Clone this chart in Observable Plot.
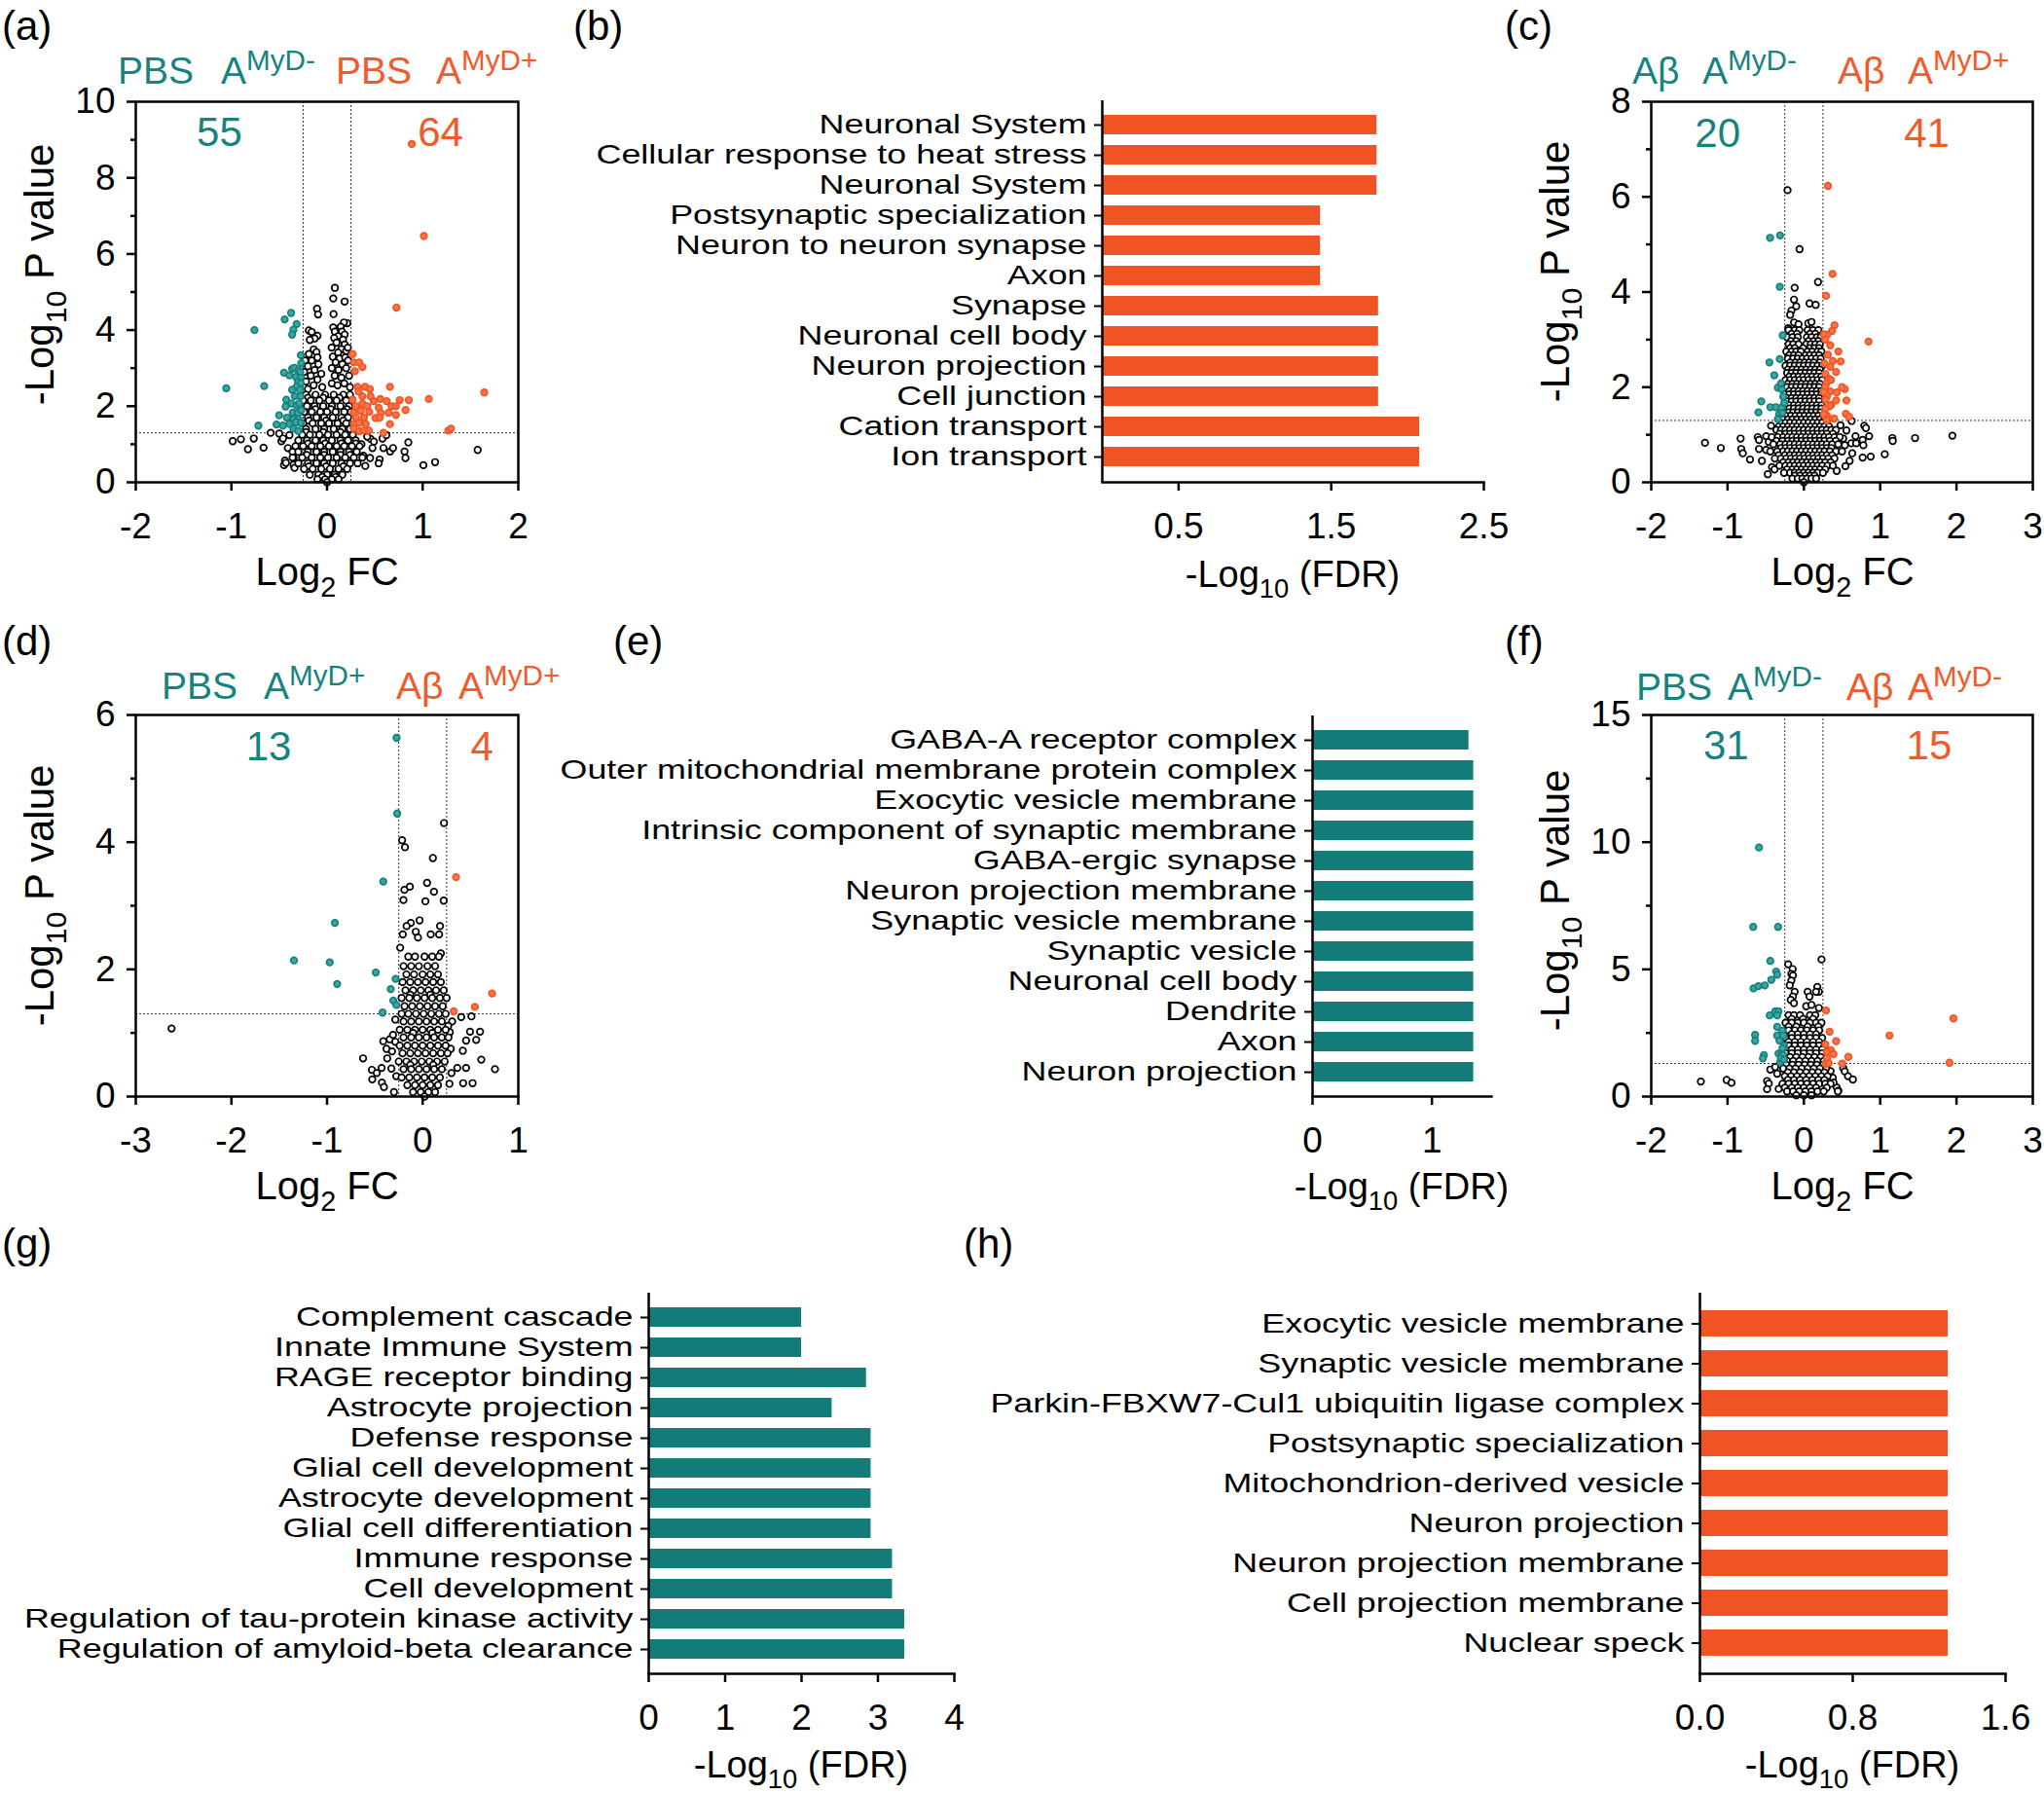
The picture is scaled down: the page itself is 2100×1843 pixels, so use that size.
<!DOCTYPE html>
<html><head><meta charset="utf-8">
<script src="https://cdn.jsdelivr.net/npm/d3@7"></script>
<script src="https://cdn.jsdelivr.net/npm/@observablehq/plot@0.6"></script>
<style>
html,body{margin:0;padding:0;background:#fff;}
#fig{position:relative;width:2100px;height:1843px;overflow:hidden;background:#fff;}
.panel{position:absolute;}
.panel svg{overflow:visible;}
#overlay{position:absolute;left:0;top:0;pointer-events:none;overflow:visible;}
</style></head><body><div id="fig"></div>
<script>
// ---------------- DATA ----------------
// (b) GO terms, PBS A-MyD- vs PBS A-MyD+
const bLabels = ["Neuronal System","Cellular response to heat stress","Neuronal System","Postsynaptic specialization","Neuron to neuron synapse","Axon","Synapse","Neuronal cell body","Neuron projection","Cell junction","Cation transport","Ion transport"];
const bValues = [1.80,1.80,1.80,1.43,1.43,1.43,1.81,1.81,1.81,1.81,2.08,2.08];
const bTicks = [0.5,1.5,2.5];
// (e)
const eLabels = ["GABA-A receptor complex","Outer mitochondrial membrane protein complex","Exocytic vesicle membrane","Intrinsic component of synaptic membrane","GABA-ergic synapse","Neuron projection membrane","Synaptic vesicle membrane","Synaptic vesicle","Neuronal cell body","Dendrite","Axon","Neuron projection"];
const eValues = [1.31,1.35,1.35,1.35,1.35,1.35,1.35,1.35,1.35,1.35,1.35,1.35];
const eTicks = [0,1];
// (g)
const gLabels = ["Complement cascade","Innate Immune System","RAGE receptor binding","Astrocyte projection","Defense response","Glial cell development","Astrocyte development","Glial cell differentiation","Immune response","Cell development","Regulation of tau-protein kinase activity","Regulation of amyloid-beta clearance"];
const gValues = [2.0,2.0,2.85,2.4,2.91,2.91,2.91,2.91,3.19,3.19,3.35,3.35];
const gTicks = [0,1,2,3,4];
// (h)
const hLabels = ["Exocytic vesicle membrane","Synaptic vesicle membrane","Parkin-FBXW7-Cul1 ubiquitin ligase complex","Postsynaptic specialization","Mitochondrion-derived vesicle","Neuron projection","Neuron projection membrane","Cell projection membrane","Nuclear speck"];
const hValues = [1.30,1.30,1.30,1.30,1.30,1.30,1.30,1.30,1.30];
const hTicks = [0,0.8,1.6];

// Volcano (a): [log2FC, -log10 p]
const aTeal = [[-1.054,2.47],[-0.759,4.0],[-0.657,2.53],[-0.718,1.49],[-0.501,1.76],[-0.528,1.52],[-0.46,1.49],[-0.443,4.28],[-0.376,4.45],[-0.318,4.16],[-0.352,4.01],[-0.365,3.88],[-0.45,2.88],[-0.393,2.81],[-0.365,2.98],[-0.342,3.01],[-0.274,3.34],[-0.27,3.13],[-0.298,2.94],[-0.325,2.77],[-0.274,2.77],[-0.304,2.64],[-0.274,2.6],[-0.318,2.51],[-0.365,2.43],[-0.284,2.43],[-0.338,2.26],[-0.277,2.26],[-0.426,2.17],[-0.372,2.07],[-0.318,2.02],[-0.291,2.07],[-0.433,1.99],[-0.359,1.83],[-0.304,1.82],[-0.42,1.7],[-0.352,1.66],[-0.298,1.66],[-0.393,1.53],[-0.325,1.58],[-0.352,1.41],[-0.274,1.56],[-0.3,1.35],[-0.27,1.9],[-0.28,2.9]];
const aOrange = [[0.886,8.89],[1.013,6.47],[0.726,4.59],[1.644,2.36],[1.064,2.19],[0.268,3.37],[0.279,3.15],[0.336,3.15],[0.37,3.03],[0.292,2.92],[0.397,2.51],[0.319,2.51],[0.448,2.45],[0.658,2.51],[0.33,2.39],[0.37,2.26],[0.268,2.17],[0.455,2.26],[0.489,2.13],[0.557,2.19],[0.624,2.13],[0.76,2.16],[0.855,2.16],[0.302,2.0],[0.37,2.07],[0.421,2.0],[0.54,1.96],[0.675,2.0],[0.72,2.0],[0.279,1.83],[0.353,1.88],[0.441,1.85],[0.563,1.82],[0.645,1.83],[0.72,1.77],[0.821,1.9],[0.302,1.7],[0.387,1.7],[0.506,1.69],[0.55,1.7],[0.285,1.53],[0.336,1.56],[0.404,1.53],[0.658,1.53],[0.279,1.41],[0.336,1.34],[0.387,1.36],[0.438,1.36],[0.59,1.3],[1.268,1.36],[1.296,1.41]];
const aBlackScatter = [[0.082,5.11],[0.065,4.83],[0.184,4.75],[-0.105,4.56],[-0.094,4.41],[0.068,4.42],[0.211,4.18],[0.177,4.2],[0.143,4.09],[0.156,3.96],[0.065,4.07],[0.082,3.96],[0.184,3.88],[0.116,3.84],[0.167,3.75],[0.075,3.79],[0.099,3.67],[0.184,3.62],[0.048,3.54],[0.15,3.5],[0.2,3.45],[0.116,3.41],[0.218,3.54],[0.06,3.3],[0.13,3.25],[0.19,3.28],[0.09,3.15],[0.16,3.1],[0.22,3.2],[0.05,3.0],[0.12,2.95],[0.2,3.0],[0.08,2.8],[0.15,2.75],[0.23,2.8],[0.05,2.6],[0.11,2.55],[0.18,2.6],[0.24,2.5],[-0.19,3.99],[-0.16,3.95],[-0.1,3.85],[-0.13,3.78],[-0.18,3.74],[-0.14,3.49],[-0.11,3.42],[-0.19,3.37],[-0.1,3.28],[-0.23,3.2],[-0.16,3.2],[-0.09,3.1],[-0.2,3.05],[-0.13,2.95],[-0.24,2.9],[-0.06,2.85],[-0.17,2.8],[-0.1,2.7],[-0.22,2.65],[-0.14,2.55],[-0.05,2.5],[-0.2,2.45],[-0.986,1.08],[-0.901,1.13],[-0.766,1.15],[-0.827,0.87],[-0.664,0.91],[-0.589,1.3],[-0.5,1.28],[-0.477,1.08],[-0.46,1.15],[-0.393,1.24],[-0.41,0.9],[-0.44,0.57],[-0.45,0.45],[-0.43,0.51],[-0.36,0.8],[-0.35,0.64],[-0.35,0.46],[-0.34,0.38],[0.455,1.14],[0.49,1.07],[0.58,1.15],[0.62,1.24],[0.475,0.9],[0.59,0.9],[0.66,0.81],[0.69,0.9],[0.85,1.05],[0.81,0.81],[0.82,0.64],[0.45,0.64],[0.55,0.6],[0.4,0.43],[0.54,0.5],[1.007,0.45],[1.13,0.53],[1.575,0.85],[0.38,0.7],[0.36,1.0],[0.42,1.2]];
const aBlackRows = [[2.3,[-0.22,-0.12,-0.02,0.07,0.17,0.24]],[2.22,[-0.2,-0.04,0.13]],[2.15,[-0.25,-0.17,-0.08,0.02,0.1,0.2]],[2.0,[-0.21,-0.13,-0.04,0.05,0.14,0.23]],[1.92,[-0.12,0.04,0.21]],[1.85,[-0.24,-0.16,-0.07,0.0,0.09,0.18,0.25]],[1.7,[-0.2,-0.11,-0.03,0.06,0.15,0.22]],[1.62,[-0.19,-0.01,0.17]],[1.55,[-0.25,-0.15,-0.06,0.02,0.11,0.2]],[1.4,[-0.22,-0.12,-0.03,0.07,0.16,0.24]],[1.32,[-0.22,-0.04,0.14]],[1.25,[-0.26,-0.18,-0.08,0.01,0.1,0.19,0.27]],[1.1,[-0.3,-0.21,-0.12,-0.04,0.05,0.14,0.22,0.3]],[1.02,[-0.2,-0.02,0.15,0.3]],[0.95,[-0.33,-0.25,-0.16,-0.07,0.02,0.1,0.18,0.26,0.34]],[0.8,[-0.3,-0.2,-0.11,-0.03,0.06,0.14,0.23,0.31]],[0.72,[-0.21,-0.03,0.14,0.24]],[0.65,[-0.36,-0.26,-0.16,-0.07,0.01,0.1,0.19,0.28,0.37]],[0.5,[-0.3,-0.2,-0.11,-0.03,0.06,0.15,0.24,0.32]],[0.42,[-0.19,-0.01,0.17]],[0.35,[-0.24,-0.15,-0.06,0.03,0.12,0.21]],[0.2,[-0.18,-0.09,0.0,0.08,0.16]],[0.14,[-0.05,0.09]],[0.08,[-0.1,-0.02,0.05,0.12]],[0.0,[0.0]]];
const aCounts = [{x:-1.125,y:9.18,t:"55"},{x:1.186,y:9.18,t:"64"}];

// Volcano (c)
const cTeal = [[-0.443,5.14],[-0.312,5.19],[-0.316,4.11],[-0.278,3.09],[-0.452,2.52],[-0.316,2.59],[-0.388,2.25],[-0.341,1.99],[-0.29,1.96],[-0.299,2.08],[-0.558,1.7],[-0.439,1.58],[-0.367,1.58],[-0.291,1.57],[-0.596,1.47],[-0.325,1.43],[-0.341,1.33],[-0.27,1.8],[-0.257,1.67],[-0.282,1.46]];
const cOrange = [[0.316,6.23],[0.376,4.38],[0.291,3.92],[0.401,3.3],[0.367,3.18],[0.304,3.1],[0.261,3.11],[0.847,2.96],[0.346,2.88],[0.452,2.75],[0.316,2.68],[0.38,2.55],[0.482,2.54],[0.346,2.43],[0.422,2.32],[0.282,2.28],[0.325,2.18],[0.295,2.08],[0.355,2.15],[0.537,1.96],[0.346,1.91],[0.431,1.89],[0.304,1.81],[0.422,1.72],[0.558,1.72],[0.282,1.74],[0.359,1.63],[0.337,1.6],[0.55,1.44],[0.592,1.38],[0.282,1.55],[0.304,1.4],[0.397,1.34],[0.325,1.33],[0.261,1.43],[0.28,2.0],[0.3,1.3],[0.27,2.5],[0.28,3.0],[0.5,2.0],[0.26,1.9]];
const cBlackScatter = [[-0.214,6.14],[-0.057,4.9],[0.185,4.21],[-0.121,4.09],[-0.129,3.84],[-0.1,3.7],[-0.163,3.61],[-0.18,3.52],[0.074,3.76],[0.155,3.73],[-0.129,3.36],[-0.07,3.32],[0.057,3.34],[0.1,3.37],[-0.206,3.24],[-1.296,0.83],[-1.088,0.72],[-0.829,0.92],[-0.821,0.7],[-0.8,0.61],[-0.706,0.48],[-0.604,0.95],[-0.588,0.89],[-0.494,0.97],[-0.588,0.7],[-0.494,0.68],[-0.46,0.85],[-0.418,0.32],[-0.384,0.27],[-0.473,0.17],[-0.43,1.19],[-0.55,0.45],[0.626,1.29],[0.558,1.09],[0.622,0.82],[0.685,0.82],[0.677,0.97],[0.77,0.89],[0.791,1.19],[0.813,1.14],[0.855,0.97],[0.779,0.78],[0.77,0.52],[0.876,0.54],[0.634,0.61],[0.537,0.78],[0.516,0.92],[0.545,0.34],[0.431,0.24],[1.06,0.59],[1.16,0.93],[1.165,0.87],[1.457,0.93],[1.946,0.98],[0.6,0.45],[0.48,1.2]];
const cBlackRows = [[3.2,[-0.2,-0.12,-0.06,0.05,0.12,0.19]],[3.12,[-0.16,-0.09,0.08,0.15]],[3.05,[-0.22,-0.15,-0.08,0.04,0.1,0.17,0.22]],[2.97,[-0.17,-0.1,0.06,0.13,0.19]],[2.9,[-0.2,-0.14,-0.07,0.03,0.09,0.15,0.21]],[2.82,[-0.18,-0.12,-0.01,0.08,0.14,0.2]],[2.75,[-0.23,-0.16,-0.1,-0.04,0.05,0.11,0.18,0.23]],[2.67,[-0.19,-0.13,-0.07,0.02,0.08,0.14,0.2]],[2.6,[-0.21,-0.14,-0.08,-0.02,0.04,0.1,0.16,0.22]],[2.52,[-0.18,-0.11,-0.05,0.01,0.07,0.13,0.21]],[2.45,[-0.24,-0.18,-0.12,-0.06,0.0,0.06,0.12,0.18,0.24]],[2.37,[-0.21,-0.15,-0.09,-0.03,0.03,0.09,0.15,0.21]],[2.3,[-0.22,-0.16,-0.1,-0.04,0.02,0.08,0.14,0.2]],[2.22,[-0.19,-0.13,-0.07,-0.01,0.05,0.11,0.17,0.23]],[2.15,[-0.24,-0.18,-0.12,-0.06,0.0,0.06,0.12,0.18,0.24]],[2.07,[-0.21,-0.15,-0.09,-0.03,0.03,0.09,0.15,0.21]],[2.0,[-0.22,-0.16,-0.1,-0.04,0.02,0.08,0.14,0.2]],[1.92,[-0.19,-0.13,-0.07,-0.01,0.05,0.11,0.17,0.23]],[1.85,[-0.25,-0.19,-0.13,-0.07,-0.01,0.05,0.11,0.17,0.23]],[1.77,[-0.22,-0.16,-0.1,-0.04,0.02,0.08,0.14,0.2]],[1.7,[-0.22,-0.16,-0.1,-0.04,0.02,0.08,0.14,0.2]],[1.62,[-0.19,-0.13,-0.07,-0.01,0.05,0.11,0.17,0.23]],[1.55,[-0.25,-0.19,-0.13,-0.07,-0.01,0.05,0.11,0.17,0.23]],[1.47,[-0.2,-0.14,-0.08,-0.02,0.04,0.1,0.16,0.22]],[1.4,[-0.23,-0.17,-0.11,-0.05,0.01,0.07,0.13,0.19,0.25]],[1.32,[-0.27,-0.21,-0.15,-0.09,-0.03,0.03,0.09,0.15,0.21,0.27]],[1.25,[-0.3,-0.24,-0.18,-0.12,-0.06,0.0,0.06,0.12,0.18,0.24,0.3]],[1.17,[-0.33,-0.27,-0.21,-0.15,-0.09,-0.03,0.03,0.09,0.15,0.21,0.27,0.33]],[1.1,[-0.36,-0.3,-0.24,-0.18,-0.12,-0.06,0.0,0.06,0.12,0.18,0.24,0.3,0.36,0.42]],[1.02,[-0.32,-0.24,-0.18,-0.12,-0.06,0.0,0.06,0.12,0.18,0.24,0.3,0.38]],[0.95,[-0.42,-0.34,-0.27,-0.21,-0.15,-0.09,-0.03,0.03,0.09,0.15,0.21,0.27,0.33,0.4,0.47]],[0.87,[-0.36,-0.28,-0.21,-0.15,-0.09,-0.03,0.03,0.09,0.15,0.21,0.27,0.34,0.42]],[0.8,[-0.4,-0.31,-0.24,-0.18,-0.12,-0.06,0.0,0.06,0.12,0.18,0.24,0.3,0.37,0.45]],[0.72,[-0.3,-0.24,-0.18,-0.12,-0.06,0.0,0.06,0.12,0.18,0.24,0.3,0.36]],[0.65,[-0.44,-0.35,-0.27,-0.21,-0.15,-0.09,-0.03,0.03,0.09,0.15,0.21,0.27,0.34,0.42,0.5]],[0.57,[-0.33,-0.25,-0.18,-0.12,-0.06,0.0,0.06,0.12,0.18,0.24,0.3,0.37]],[0.5,[-0.38,-0.3,-0.23,-0.17,-0.11,-0.05,0.01,0.07,0.13,0.19,0.25,0.32,0.4]],[0.42,[-0.27,-0.2,-0.14,-0.08,-0.02,0.04,0.1,0.16,0.22,0.28,0.35]],[0.35,[-0.32,-0.24,-0.18,-0.12,-0.06,0.0,0.06,0.12,0.18,0.24,0.31,0.38]],[0.27,[-0.22,-0.15,-0.09,-0.03,0.03,0.09,0.15,0.21,0.28]],[0.2,[-0.26,-0.18,-0.12,-0.06,0.0,0.06,0.12,0.18,0.25]],[0.14,[-0.12,-0.05,0.02,0.08,0.14]],[0.08,[-0.15,-0.08,-0.02,0.04,0.1,0.16]],[0.0,[0.0]]];
const cCounts = [{x:-1.13,y:7.33,t:"20"},{x:1.61,y:7.33,t:"41"}];

// Volcano (d)
const dTeal = [[-0.273,5.64],[-0.266,4.45],[-0.412,3.38],[-0.918,2.73],[-1.346,2.14],[-0.972,2.11],[-0.894,1.77],[-0.49,1.95],[-0.283,1.85],[-0.334,1.69],[-0.307,1.51],[-0.276,1.44],[-0.419,1.32]];
const dOrange = [[0.349,3.45],[0.325,1.34],[0.546,1.41],[0.726,1.62]];
const dBlackScatter = [[0.223,4.3],[-0.215,4.03],[-0.185,3.92],[0.107,3.75],[-0.191,3.25],[-0.134,3.3],[0.046,3.36],[0.118,3.22],[-0.201,3.09],[0.029,3.07],[0.22,3.08],[-2.626,1.07],[-0.032,2.77],[-0.124,2.73],[-0.168,2.68],[-0.072,2.59],[-0.049,2.5],[-0.208,2.55],[0.084,2.55],[0.172,2.55],[0.182,2.68],[-0.235,2.34],[0.19,2.25],[-0.286,1.21],[-0.412,0.87],[-0.344,0.9],[-0.31,0.97],[-0.286,0.86],[-0.378,0.75],[-0.32,0.71],[-0.371,0.6],[-0.623,0.6],[-0.531,0.42],[-0.48,0.37],[-0.429,0.45],[-0.527,0.27],[-0.426,0.22],[-0.405,0.15],[-0.327,0.44],[-0.276,0.32],[-0.3,0.07],[0.308,1.18],[0.403,1.25],[0.267,1.11],[0.284,1.01],[0.495,1.02],[0.454,0.88],[0.42,0.72],[0.294,0.75],[0.613,0.58],[0.756,0.43],[0.362,0.45],[0.454,0.45],[0.423,0.21],[0.301,0.37],[0.522,0.21],[0.56,0.89],[0.6,1.02],[0.51,1.26],[0.28,0.2]];
const dBlackRows = [[2.2,[-0.15,-0.08,0.02,0.1,0.17]],[2.05,[-0.2,-0.12,-0.04,0.05,0.13]],[1.92,[-0.17,-0.09,0.0,0.08,0.16]],[1.8,[-0.21,-0.13,-0.05,0.03,0.11,0.19]],[1.67,[-0.18,-0.1,-0.02,0.06,0.14,0.22]],[1.6,[-0.13,0.08]],[1.55,[-0.22,-0.14,-0.06,0.02,0.1,0.18,0.25]],[1.42,[-0.19,-0.11,-0.03,0.05,0.13,0.21]],[1.3,[-0.22,-0.15,-0.07,0.01,0.09,0.17,0.24]],[1.18,[-0.2,-0.12,-0.04,0.04,0.12,0.2]],[1.05,[-0.24,-0.16,-0.08,0.0,0.08,0.16,0.24]],[1.0,[-0.1,0.1]],[0.93,[-0.2,-0.12,-0.04,0.04,0.12,0.2,0.27]],[0.8,[-0.24,-0.16,-0.08,0.0,0.08,0.16,0.24]],[0.68,[-0.21,-0.13,-0.05,0.03,0.11,0.19,0.26]],[0.55,[-0.25,-0.17,-0.09,-0.01,0.07,0.15,0.23]],[0.5,[-0.13,0.11]],[0.43,[-0.2,-0.12,-0.04,0.04,0.12,0.2]],[0.3,[-0.22,-0.14,-0.06,0.02,0.1,0.18]],[0.18,[-0.16,-0.08,0.0,0.08,0.16]],[0.07,[-0.1,-0.02,0.06,0.13]],[0.0,[0.02]]];
const dCounts = [{x:-1.61,y:5.5,t:"13"},{x:0.62,y:5.5,t:"4"}];

// Volcano (f)
const fTeal = [[-0.588,9.79],[-0.664,6.67],[-0.338,6.67],[-0.44,5.33],[-0.363,4.91],[-0.35,4.79],[-0.427,4.59],[-0.66,4.25],[-0.597,4.34],[-0.512,4.37],[-0.448,3.19],[-0.376,3.35],[-0.333,3.35],[-0.35,3.19],[-0.35,2.74],[-0.35,2.4],[-0.283,2.59],[-0.27,2.4],[-0.639,2.42],[-0.639,2.19],[-0.524,1.63],[-0.537,1.5],[-0.333,1.69],[-0.291,1.69],[-0.27,1.63],[-0.312,1.35],[-0.3,1.5],[-0.26,2.0],[-0.28,1.9],[-0.32,2.2],[-0.26,1.45]];
const fOrange = [[0.29,3.38],[0.337,2.55],[0.422,2.18],[0.282,2.05],[0.354,1.82],[0.388,1.67],[0.303,1.5],[0.282,1.29],[0.324,1.31],[0.583,1.56],[0.502,1.3],[1.122,2.4],[1.96,3.07],[1.908,1.33],[0.3,1.75]];
const fBlackScatter = [[0.231,5.39],[-0.206,5.2],[-0.147,5.01],[-0.164,4.82],[-0.143,4.76],[-0.164,4.56],[-0.185,4.37],[0.176,4.31],[0.197,4.12],[0.049,4.12],[0.074,3.93],[0.159,4.12],[-0.121,4.12],[-0.143,3.93],[-0.172,3.8],[-0.13,3.67],[0.197,3.48],[0.03,3.55],[0.1,3.6],[-1.35,0.59],[-1.012,0.65],[-0.949,0.54],[-0.44,1.06],[-0.376,1.16],[-0.482,0.61],[-0.46,0.51],[-0.482,0.29],[-0.35,0.9],[-0.33,0.3],[0.515,1.12],[0.536,0.99],[0.578,0.8],[0.642,0.67],[0.43,0.36],[0.452,0.23],[0.379,0.74],[0.388,0.55],[0.446,0.2],[0.35,1.0]];
const fBlackRows = [[3.2,[-0.2,-0.13,-0.05,0.08,0.15]],[3.05,[-0.16,-0.01,0.12]],[2.9,[-0.24,-0.16,-0.08,0.0,0.08,0.16,0.23]],[2.75,[-0.2,-0.1,0.05,0.19]],[2.6,[-0.2,-0.12,-0.04,0.04,0.12,0.2]],[2.45,[-0.16,-0.08,0.0,0.08,0.16]],[2.3,[-0.24,-0.16,-0.08,0.0,0.08,0.16,0.24]],[2.15,[-0.2,-0.12,-0.04,0.04,0.12,0.2]],[2.0,[-0.2,-0.12,-0.04,0.04,0.12,0.2,0.27]],[1.85,[-0.24,-0.16,-0.08,0.0,0.08,0.16,0.24]],[1.7,[-0.24,-0.16,-0.08,0.0,0.08,0.16,0.24]],[1.55,[-0.18,-0.1,-0.02,0.06,0.14,0.22]],[1.4,[-0.22,-0.14,-0.06,0.02,0.1,0.18,0.26]],[1.25,[-0.23,-0.15,-0.07,0.01,0.09,0.17,0.25]],[1.1,[-0.27,-0.19,-0.11,-0.03,0.05,0.13,0.21,0.29]],[0.95,[-0.21,-0.13,-0.05,0.03,0.11,0.19,0.27]],[0.8,[-0.25,-0.17,-0.09,-0.01,0.07,0.15,0.23,0.31]],[0.65,[-0.21,-0.13,-0.05,0.03,0.11,0.19,0.27]],[0.5,[-0.28,-0.2,-0.12,-0.04,0.04,0.12,0.2,0.28,0.35]],[0.35,[-0.25,-0.16,-0.08,0.0,0.08,0.16,0.3]],[0.2,[-0.22,-0.14,-0.06,0.02,0.1,0.18,0.26]],[0.05,[-0.1,0.0,0.1]]];
const fCounts = [{x:-1.02,y:13.79,t:"31"},{x:1.64,y:13.79,t:"15"}];

// ---------------- STYLE ----------------
const FONT = '"Liberation Sans", Arial, Helvetica, sans-serif';
const TEAL_TXT = "#17837f", ORANGE_TXT = "#f15a29";
const TEAL_BAR = "#147c78", ORANGE_BAR = "#f05324";
const TEAL_PT = {fill: "#3aa7a3", stroke: "#16807c"};
const ORANGE_PT = {fill: "#ff7447", stroke: "#ef5627"};
const CAT_SIZE = 28, CAT_STRETCH = 1.28;

const fig = document.getElementById("fig");
function place(node, left, top) {
  const d = document.createElement("div");
  d.className = "panel"; d.style.left = left + "px"; d.style.top = top + "px";
  d.appendChild(node); fig.appendChild(d);
}
const rowsToPts = rows => rows.flatMap(([y, xs]) => xs.map(x => [x, y]));

function volcano(c) {
  const black = c.scatter.concat(rowsToPts(c.rows));
  const P = {x: d => d[0], y: d => d[1], r: 3.3, strokeWidth: 1.7};
  const dotted = {stroke: "#333", strokeWidth: 1, strokeDasharray: "2,2"};
  const plot = Plot.plot({
    width: c.width, height: c.height,
    marginLeft: c.mL, marginTop: c.mT, marginRight: c.mR, marginBottom: c.mB,
    style: {fontFamily: FONT, fontSize: "37px", background: "transparent", overflow: "visible", color: "black"},
    x: {domain: c.xDom}, y: {domain: c.yDom},
    marks: [
      Plot.ruleX([-0.25, 0.25], dotted),
      Plot.ruleY([1.3], dotted),
      Plot.dot(black, {...P, stroke: "black", fill: "white"}),
      Plot.dot(c.teal, {...P, ...TEAL_PT}),
      Plot.dot(c.orange, {...P, ...ORANGE_PT}),
      Plot.text(c.counts.slice(0, 1), {x: "x", y: "y", text: "t", fill: TEAL_TXT, fontSize: 42}),
      Plot.text(c.counts.slice(1), {x: "x", y: "y", text: "t", fill: ORANGE_TXT, fontSize: 42}),
      Plot.frame({stroke: "black", strokeWidth: 2.5}),
      Plot.axisX(c.xTicks, {tickSize: 9, tickPadding: 22, tickFormat: d => String(d), label: null, strokeWidth: 2.5, fontSize: 37}),
      Plot.axisY(c.yMajor, {tickSize: 9, tickPadding: 12, tickFormat: d => String(d), label: null, strokeWidth: 2.5, fontSize: 37}),
      Plot.axisY(c.yMinor, {tickSize: 5, tickFormat: () => "", label: null, strokeWidth: 2.5})
    ]
  });
  place(plot, c.left, c.top);
}

function bars(c) {
  const data = c.labels.map((l, i) => ({i, v: c.values[i]}));
  const plot = Plot.plot({
    width: c.width, height: c.height,
    marginLeft: c.mL, marginTop: c.mT, marginRight: c.mR, marginBottom: c.mB,
    style: {fontFamily: FONT, fontSize: CAT_SIZE + "px", background: "transparent", overflow: "visible", color: "black"},
    x: {domain: c.xDom},
    y: {domain: c.labels.map((_, i) => i), padding: 0.35},
    marks: [
      Plot.barX(data, {x: "v", y: "i", fill: c.color}),
      Plot.ruleX([0], {stroke: "black", strokeWidth: 2.5}),
      Plot.frame({anchor: "bottom", stroke: "black", strokeWidth: 2.5}),
      Plot.axisX(c.xTicks, {tickSize: 9, tickPadding: 22, tickFormat: c.fmt, label: null, strokeWidth: 2.5, fontSize: 37}),
      Plot.axisY({tickSize: 8, tickPadding: 8, tickFormat: i => c.labels[i], label: null, strokeWidth: 2, fontSize: CAT_SIZE})
    ]
  });
  place(plot, c.left, c.top);
  // the figure's category font is wider than Arial: stretch the glyphs horizontally
  plot.querySelectorAll('g[aria-label="y-axis tick label"] text').forEach(t => {
    const w = t.getComputedTextLength();
    if (w > 0) { t.setAttribute("textLength", (w * CAT_STRETCH).toFixed(1)); t.setAttribute("lengthAdjust", "spacingAndGlyphs"); }
  });
}

volcano({left: 0, top: 0, width: 560, height: 600, mL: 139, mT: 104, mR: 28, mB: 105,
  xDom: [-2, 2], xTicks: [-2,-1,0,1,2], yDom: [0, 10], yMajor: [0,2,4,6,8,10], yMinor: [1,3,5,7,9],
  scatter: aBlackScatter, rows: aBlackRows, teal: aTeal, orange: aOrange, counts: aCounts});
volcano({left: 1540, top: 0, width: 560, height: 600, mL: 156, mT: 104, mR: 12, mB: 105,
  xDom: [-2, 3], xTicks: [-2,-1,0,1,2,3], yDom: [0, 8], yMajor: [0,2,4,6,8], yMinor: [1,3,5,7],
  scatter: cBlackScatter, rows: cBlackRows, teal: cTeal, orange: cOrange, counts: cCounts});
volcano({left: 0, top: 620, width: 560, height: 600, mL: 139, mT: 114, mR: 28, mB: 94,
  xDom: [-3, 1], xTicks: [-3,-2,-1,0,1], yDom: [0, 6], yMajor: [0,2,4,6], yMinor: [1,3,5],
  scatter: dBlackScatter, rows: dBlackRows, teal: dTeal, orange: dOrange, counts: dCounts});
volcano({left: 1540, top: 620, width: 560, height: 600, mL: 156, mT: 114, mR: 12, mB: 94,
  xDom: [-2, 3], xTicks: [-2,-1,0,1,2,3], yDom: [0, 15], yMajor: [0,5,10,15], yMinor: [2.5,7.5,12.5],
  scatter: fBlackScatter, rows: fBlackRows, teal: fTeal, orange: fOrange, counts: fCounts});

bars({left: 560, top: 0, width: 1000, height: 600, mL: 572, mT: 103, mR: 36, mB: 105,
  labels: bLabels, values: bValues, color: ORANGE_BAR, xDom: [0, 2.5], xTicks: bTicks, fmt: d => String(d)});
bars({left: 540, top: 620, width: 1000, height: 600, mL: 808, mT: 115, mR: 8, mB: 94,
  labels: eLabels, values: eValues, color: TEAL_BAR, xDom: [0, 1.5], xTicks: eTicks, fmt: d => String(d)});
bars({left: 0, top: 1240, width: 1000, height: 603, mL: 666, mT: 88, mR: 20, mB: 124,
  labels: gLabels, values: gValues, color: TEAL_BAR, xDom: [0, 4], xTicks: gTicks, fmt: d => String(d)});
bars({left: 1000, top: 1240, width: 1100, height: 603, mL: 746, mT: 88, mR: 40, mB: 124,
  labels: hLabels, values: hValues, color: ORANGE_BAR, xDom: [0, 1.6], xTicks: hTicks, fmt: d => d.toFixed(1)});

// ---------------- TEXT OVERLAY ----------------
const ov = d3.select("#fig").append("svg").attr("id", "overlay").attr("width", 2100).attr("height", 1843);
function label(x, y, parts, {size, color = "black", anchor = "start", rotate = false, supScale = 0.72}) {
  const t = ov.append("text").attr("x", x).attr("y", y).attr("font-size", size)
    .attr("fill", color).attr("text-anchor", anchor).attr("font-family", FONT);
  if (rotate) t.attr("transform", `rotate(-90 ${x} ${y})`);
  let shift = 0;
  for (const p of parts) {
    const s = t.append("tspan").text(p.t);
    const target = p.sub ? 0.3 * size : p.sup ? -0.36 * size : 0;
    if (p.sub) s.attr("font-size", 0.72 * size);
    if (p.sup) s.attr("font-size", supScale * size);
    if (target !== shift) { s.attr("dy", target - shift); shift = target; }
  }
}
// panel letters
[["(a)",2,41],["(b)",589,41],["(c)",1546,41],["(d)",2,673],["(e)",630,673],["(f)",1546,673],["(g)",2,1292],["(h)",990,1292]]
  .forEach(([t, x, y]) => label(x, y, [{t}], {size: 42}));

// volcano headers
function header(x1, x2, y, first, sup, color) {
  label(x1, y, [{t: first}], {size: 39, color});
  label(x2, y, [{t: "A"}, {t: sup, sup: true}], {size: 39, color, supScale: 0.76});
}
header(121, 227, 86, "PBS", "MyD-", TEAL_TXT);
header(345, 448, 86, "PBS", "MyD+", ORANGE_TXT);
header(1677, 1749, 86, "Aβ", "MyD-", TEAL_TXT);
header(1888, 1960, 86, "Aβ", "MyD+", ORANGE_TXT);
header(166, 271, 718, "PBS", "MyD+", TEAL_TXT);
header(407, 471, 718, "Aβ", "MyD+", ORANGE_TXT);
header(1681, 1775, 719, "PBS", "MyD-", TEAL_TXT);
header(1897, 1960, 719, "Aβ", "MyD-", ORANGE_TXT);

// axis titles
const yTitle = [{t: "-Log"}, {t: "10", sub: true}, {t: " P value"}];
const xTitle = [{t: "Log"}, {t: "2", sub: true}, {t: " FC"}];
const fdrTitle = [{t: "-Log"}, {t: "10", sub: true}, {t: " (FDR)"}];
[[55,282],[1612,279],[55,920],[1612,925]].forEach(([x, y]) => label(x, y, yTitle, {size: 42, anchor: "middle", rotate: true}));
[[336,601],[1893,601],[336,1232],[1893,1232]].forEach(([x, y]) => label(x, y, xTitle, {size: 40, anchor: "middle"}));
[[1328,603],[1440,1232],[823,1826],[1903,1826]].forEach(([x, y]) => label(x, y, fdrTitle, {size: 38, anchor: "middle"}));
</script></body></html>
